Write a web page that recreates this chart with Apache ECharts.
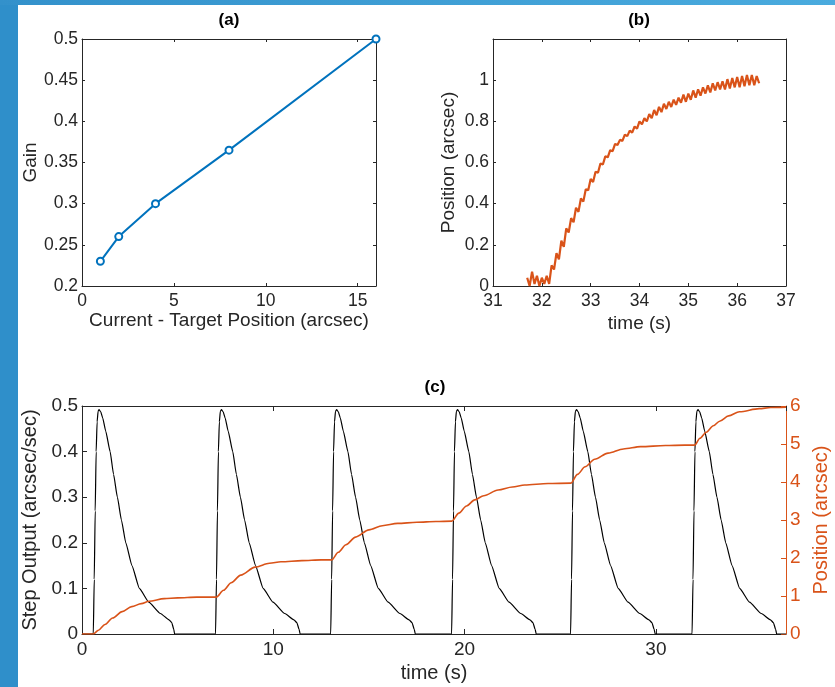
<!DOCTYPE html>
<html>
<head>
<meta charset="utf-8">
<title>Gain and step response</title>
<script src="https://cdn.jsdelivr.net/npm/echarts@6/dist/echarts.min.js"></script>
<style>
	html, body { margin: 0; padding: 0; background: #fff; }
	#container { width: 835px; height: 687px; }
</style>
</head>
<body>
<div id="container"></div>
<script>
// (a) gain vs offset
var gainOffset = [1, 2, 4, 8, 16];
var gainValue = [0.23, 0.26, 0.30, 0.365, 0.5];

// (b) last step, measured position
var stepTime = [31.70, 31.75, 31.80, 31.85, 31.90, 31.95, 32.00, 32.05, 32.10, 32.15,
	32.20, 32.25, 32.30, 32.35, 32.40, 32.45, 32.50, 32.55, 32.60, 32.65,
	32.70, 32.75, 32.80, 32.85, 32.90, 32.95, 33.00, 33.05, 33.10, 33.15,
	33.20, 33.25, 33.30, 33.35, 33.40, 33.45, 33.50, 33.55, 33.60, 33.65,
	33.70, 33.75, 33.80, 33.85, 33.90, 33.95, 34.00, 34.05, 34.10, 34.15,
	34.20, 34.25, 34.30, 34.35, 34.40, 34.45, 34.50, 34.55, 34.60, 34.65,
	34.70, 34.75, 34.80, 34.85, 34.90, 34.95, 35.00, 35.05, 35.10, 35.15,
	35.20, 35.25, 35.30, 35.35, 35.40, 35.45, 35.50, 35.55, 35.60, 35.65,
	35.70, 35.75, 35.80, 35.85, 35.90, 35.95, 36.00, 36.05, 36.10, 36.15,
	36.20, 36.25, 36.30, 36.35, 36.40, 36.45];
var stepPos = [0.04, 0.00, 0.07, 0.01, 0.05, 0.00, 0.04, 0.01, 0.05, 0.01,
	0.10, 0.08, 0.16, 0.13, 0.22, 0.19, 0.28, 0.26, 0.33, 0.31,
	0.38, 0.36, 0.425, 0.41, 0.47, 0.465, 0.52, 0.505, 0.555, 0.55,
	0.595, 0.59, 0.63, 0.625, 0.66, 0.655, 0.69, 0.685, 0.71, 0.705,
	0.735, 0.728, 0.755, 0.745, 0.775, 0.765, 0.80, 0.785, 0.815, 0.80,
	0.835, 0.815, 0.855, 0.83, 0.87, 0.845, 0.885, 0.86, 0.895, 0.87,
	0.905, 0.88, 0.915, 0.89, 0.93, 0.895, 0.935, 0.905, 0.95, 0.915,
	0.955, 0.925, 0.965, 0.935, 0.975, 0.94, 0.985, 0.95, 0.99, 0.955,
	0.995, 0.955, 1.005, 0.96, 1.01, 0.965, 1.015, 0.965, 1.02, 0.97,
	1.025, 0.975, 1.025, 0.975, 1.02, 0.985];

// (c) step output pulses: one value list, one time list per pulse
var pulseValue = [0, 0.12, 0.27, 0.40, 0.465, 0.488, 0.492, 0.487, 0.474, 0.445, 0.40, 0.35,
	0.30, 0.25, 0.20, 0.15, 0.10, 0.07, 0.045, 0.031, 0.025, 0.01, 0];
var pulseTimes = [
	[0.59, 0.64, 0.69, 0.74, 0.79, 0.84, 0.89, 0.98, 1.08, 1.24, 1.47, 1.65, 1.85, 2.06, 2.29, 2.61, 3.0, 3.49, 4.1, 4.55, 4.69, 4.80, 4.84],
	[6.98, 7.03, 7.08, 7.13, 7.18, 7.23, 7.29, 7.38, 7.48, 7.64, 7.88, 8.07, 8.28, 8.50, 8.74, 9.07, 9.47, 9.98, 10.60, 11.08, 11.23, 11.35, 11.40],
	[13.0, 13.05, 13.10, 13.15, 13.20, 13.25, 13.31, 13.40, 13.50, 13.66, 13.90, 14.09, 14.30, 14.52, 14.76, 15.09, 15.49, 16.0, 16.62, 17.10, 17.25, 17.37, 17.42],
	[19.32, 19.37, 19.42, 19.47, 19.52, 19.57, 19.63, 19.72, 19.82, 19.98, 20.22, 20.41, 20.62, 20.84, 21.08, 21.41, 21.81, 22.32, 22.94, 23.42, 23.57, 23.69, 23.74],
	[25.54, 25.59, 25.64, 25.69, 25.74, 25.79, 25.85, 25.94, 26.04, 26.20, 26.44, 26.63, 26.84, 27.06, 27.30, 27.63, 28.03, 28.54, 29.16, 29.64, 29.79, 29.91, 29.96],
	[31.89, 31.94, 31.99, 32.04, 32.09, 32.14, 32.20, 32.29, 32.39, 32.55, 32.79, 32.98, 33.19, 33.41, 33.65, 33.98, 34.38, 34.89, 35.51, 35.99, 36.14, 36.26, 36.31]
];
// (c) position (right axis)
var posTime = [0, 0.59, 0.86, 1.2, 1.6, 2.1, 2.6, 3.1, 3.5, 4.3, 5.0, 6.0, 7.02,
	7.4, 7.8, 8.3, 9.05, 9.8, 10.4, 11.5, 12.5, 13.05,
	13.4, 13.8, 14.3, 15.0, 15.7, 16.5, 17.5, 18.5, 19.33,
	19.7, 20.1, 20.53, 21.0, 21.75, 22.5, 23.14, 24.36, 25.55,
	25.9, 26.3, 26.8, 27.5, 28.3, 29.2, 30.5, 31.5, 32.03,
	32.3, 32.63, 33.0, 33.33, 33.8, 34.37, 35.4, 36.0, 36.8];
var posValue = [0, 0, 0.1, 0.25, 0.42, 0.59, 0.72, 0.8, 0.86, 0.93, 0.95, 0.97, 0.97,
	1.15, 1.35, 1.55, 1.76, 1.86, 1.9, 1.93, 1.95, 1.95,
	2.15, 2.35, 2.55, 2.74, 2.85, 2.91, 2.94, 2.96, 2.97,
	3.18, 3.37, 3.53, 3.64, 3.79, 3.87, 3.92, 3.96, 3.97,
	4.2, 4.4, 4.6, 4.76, 4.87, 4.93, 4.96, 4.97, 4.97,
	5.15, 5.31, 5.48, 5.6, 5.74, 5.85, 5.93, 5.96, 5.97];

var FONT = '"Liberation Sans", Arial, sans-serif';
var AXIS = '#262626';
var ORANGE = '#D95319';
var BLUE = '#0072BD';

function pairs(xs, ys) {
	var out = [];
	for (var i = 0; i < xs.length; i++) {
		out.push([xs[i], ys[i]]);
	}
	return out;
}

var pulseData = [[0, 0]];
for (var p = 0; p < pulseTimes.length; p++) {
	pulseData = pulseData.concat(pairs(pulseTimes[p], pulseValue));
}
pulseData.push([36.8, 0]);

// one axis of a boxed matlab-style frame
function axis(o) {
	var color = o.color || AXIS;
	return {
		type: 'value',
		gridIndex: o.grid,
		position: o.position,
		min: o.min,
		max: o.max,
		interval: o.interval,
		name: o.name || '',
		nameLocation: 'middle',
		nameGap: o.nameGap || 0,
		nameTextStyle: {
			color: color,
			fontFamily: FONT,
			fontSize: o.nameSize || 19
		},
		axisLine: {
			show: true,
			onZero: false,
			lineStyle: { color: color, width: 1 }
		},
		axisTick: {
			show: true,
			inside: true,
			length: o.tickLen || 3,
			lineStyle: { color: color, width: 1 }
		},
		axisLabel: {
			show: !o.mirror,
			color: color,
			fontFamily: FONT,
			fontSize: o.labelSize || 17.5,
			margin: o.margin || 5,
			showMaxLabel: o.showMax !== false,
			formatter: function(v) { return '' + Math.round(v * 1000) / 1000; }
		},
		splitLine: { show: false }
	};
}

var dom = document.getElementById("container");
var myChart = echarts.init(dom, null, { renderer: 'canvas' });
var option = {
	animation: false,
	backgroundColor: '#fff',
	grid: [
		{ left: 82, top: 39, width: 294, height: 247, outerBoundsMode: 'none' },
		{ left: 493, top: 39, width: 293, height: 247, outerBoundsMode: 'none' },
		{ left: 82, top: 406, width: 704, height: 228, outerBoundsMode: 'none' }
	],
	xAxis: [
		axis({ grid: 0, position: 'bottom', min: 0, max: 16, interval: 5, showMax: false,
			name: 'Current - Target Position (arcsec)', nameGap: 25, margin: 6 }),
		axis({ grid: 0, position: 'top', min: 0, max: 16, interval: 5, mirror: true }),
		axis({ grid: 1, position: 'bottom', min: 31, max: 37, interval: 1,
			name: 'time (s)', nameGap: 28, margin: 6 }),
		axis({ grid: 1, position: 'top', min: 31, max: 37, interval: 1, mirror: true }),
		axis({ grid: 2, position: 'bottom', min: 0, max: 36.8, interval: 10, showMax: false,
			name: 'time (s)', nameGap: 29, margin: 6, tickLen: 5, labelSize: 19, nameSize: 20 }),
		axis({ grid: 2, position: 'top', min: 0, max: 36.8, interval: 10, mirror: true, tickLen: 5 })
	],
	yAxis: [
		axis({ grid: 0, position: 'left', min: 0.2, max: 0.5, interval: 0.05,
			name: 'Gain', nameGap: 40, margin: 4 }),
		axis({ grid: 0, position: 'right', min: 0.2, max: 0.5, interval: 0.05, mirror: true }),
		axis({ grid: 1, position: 'left', min: 0, max: 1.2, interval: 0.2, showMax: false,
			name: 'Position (arcsec)', nameGap: 35, margin: 4 }),
		axis({ grid: 1, position: 'right', min: 0, max: 1.2, interval: 0.2, mirror: true }),
		axis({ grid: 2, position: 'left', min: 0, max: 0.5, interval: 0.1,
			name: 'Step Output (arcsec/sec)', nameGap: 35, margin: 4, tickLen: 5, labelSize: 19, nameSize: 20 }),
		axis({ grid: 2, position: 'right', min: 0, max: 6, interval: 1, color: ORANGE,
			name: 'Position (arcsec)', nameGap: 20, margin: 4, tickLen: 5, labelSize: 19, nameSize: 20 })
	],
	series: [{
		name: 'Gain',
		type: 'line',
		xAxisIndex: 0,
		yAxisIndex: 0,
		data: pairs(gainOffset, gainValue),
		symbol: 'emptyCircle',
		symbolSize: 7,
		lineStyle: { color: BLUE, width: 2 },
		itemStyle: { color: BLUE, borderColor: BLUE, borderWidth: 2 }
	}, {
		name: 'Position',
		type: 'line',
		xAxisIndex: 2,
		yAxisIndex: 2,
		data: pairs(stepTime, stepPos),
		showSymbol: false,
		lineStyle: { color: ORANGE, width: 2.2 }
	}, {
		name: 'Step Output',
		type: 'line',
		xAxisIndex: 4,
		yAxisIndex: 4,
		data: pulseData,
		showSymbol: false,
		smooth: 0.15,
		smoothMonotone: 'x',
		lineStyle: { color: '#000', width: 1.2 }
	}, {
		name: 'Position (c)',
		type: 'line',
		xAxisIndex: 4,
		yAxisIndex: 5,
		data: pairs(posTime, posValue),
		showSymbol: false,
		smooth: 0.3,
		smoothMonotone: 'x',
		lineStyle: { color: ORANGE, width: 1.6 }
	}],
	graphic: [
		// blue slide frame
		{ type: 'rect', left: 0, top: 0, shape: { width: 18, height: 687 }, style: { fill: '#2f8fca' }, z: 100 },
		{ type: 'rect', left: 0, top: 0, shape: { width: 835, height: 5 },
			style: { fill: new echarts.graphic.LinearGradient(0, 0, 1, 0, [
				{ offset: 0, color: '#3391cb' }, { offset: 1, color: '#4aabde' }]) }, z: 100 },
		{ type: 'text', x: 229, y: 20, style: { text: '(a)', fontFamily: FONT, fontWeight: 'bold', fontSize: 17, fill: '#000', align: 'center', verticalAlign: 'middle' } },
		{ type: 'text', x: 639, y: 20, style: { text: '(b)', fontFamily: FONT, fontWeight: 'bold', fontSize: 17, fill: '#000', align: 'center', verticalAlign: 'middle' } },
		{ type: 'text', x: 435, y: 387, style: { text: '(c)', fontFamily: FONT, fontWeight: 'bold', fontSize: 17, fill: '#000', align: 'center', verticalAlign: 'middle' } }
	]
};
myChart.setOption(option, true);
</script>
</body>
</html>
